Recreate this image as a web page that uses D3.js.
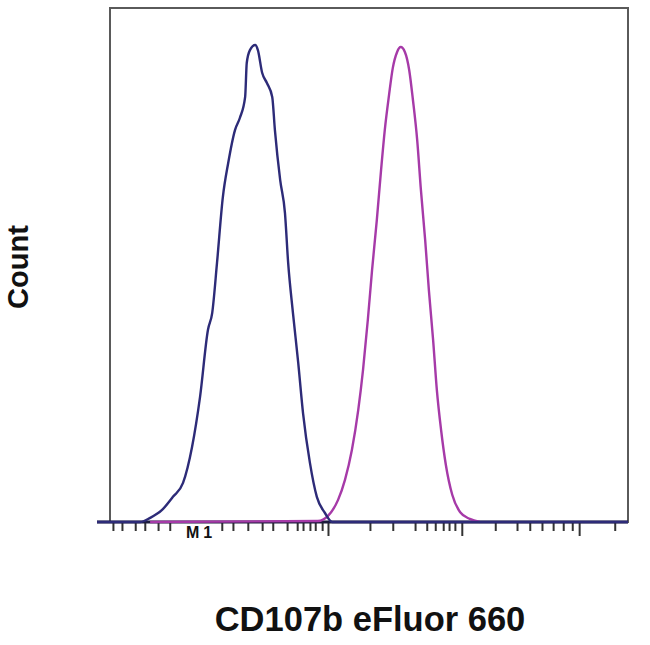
<!DOCTYPE html>
<html>
<head>
<meta charset="utf-8">
<script src="https://cdn.jsdelivr.net/npm/d3@7"></script>
<style>
  body { margin: 0; background: #fff; }
  svg { display: block; font-family: "Liberation Sans", Arial, sans-serif; }
</style>
</head>
<body>
<div class="content"></div>
<script>
const SVG_W = 650;
const SVG_H = 645;

// blue histogram (channel, count)
const blueChannels = [0, 81, 100, 122, 143, 162, 179, 194, 209, 217, 226, 237, 247, 260, 269, 279, 282, 288, 298, 303, 311, 320, 330, 335, 345, 354, 360, 369, 379, 388, 401, 414, 429, 443, 1000];
const blueCounts   = [0, 0, 0.8, 2.3, 4.9, 7.6, 14.6, 24.3, 37.4, 40.7, 50.4, 63.2, 69.8, 76.3, 78.6, 82.7, 89.3, 91.8, 92.8, 91.8, 87.4, 85.4, 82.7, 76.3, 66.5, 60.1, 50.4, 40.7, 30.9, 21.2, 11.5, 4.9, 1.8, 0, 0];

// magenta histogram (channel, count)
const pinkChannels = [100, 416, 435, 454, 467, 480, 492, 501, 510, 518, 527, 535, 542, 550, 557, 565, 572, 580, 588, 595, 603, 610, 618, 625, 633, 640, 648, 657, 669, 684, 702, 721];
const pinkCounts   = [0, 0.2, 1.2, 4.3, 8.2, 14.0, 21.8, 29.6, 39.3, 49.0, 58.8, 68.5, 76.3, 83.1, 88.3, 91.4, 92.4, 91.4, 87.9, 82.1, 74.3, 64.6, 54.9, 45.1, 35.4, 25.7, 17.9, 11.1, 5.3, 1.9, 0.6, 0];

// x axis tick channels
const minorTicks = [30, 47, 72, 90, 115, 137, 235, 256, 284, 311, 331, 358, 377, 388, 401, 411, 424, 514, 557, 599, 621, 637, 652, 663, 674, 750, 791, 815, 838, 859, 878, 895, 975];
const majorTicks = [435, 687, 908];

const xLabel = "CD107b eFluor 660";
const yLabel = "Count";
const markerLabel = "M1";

const svg = d3.select(".content").append("svg").attr("width", SVG_W).attr("height", SVG_H);

const x = d3.scaleLinear().domain([0, 1000]).range([97, 628]);
const y = d3.scaleLinear().domain([0, 100]).range([522, 8]);

// frame
svg.append("rect")
    .attr("x", 110).attr("y", y(100))
    .attr("width", x(1000) - 110).attr("height", y(0) - y(100))
    .attr("fill", "none").attr("stroke", "#5a5a5a").attr("stroke-width", 2);

// x axis: line + ticks
const axis = svg.append("g").attr("transform", "translate(0," + y(0) + ")");
axis.append("g").call(d3.axisBottom(x).tickValues(minorTicks).tickSize(9).tickFormat(""))
    .call(g => g.select(".domain").remove())
    .selectAll("line").attr("stroke", "#333").attr("stroke-width", 2);
axis.append("g").call(d3.axisBottom(x).tickValues(majorTicks).tickSize(14).tickFormat(""))
    .call(g => g.select(".domain").remove())
    .selectAll("line").attr("stroke", "#333").attr("stroke-width", 2);
axis.append("line")
    .attr("x1", x(0)).attr("x2", x(1000))
    .attr("stroke", "#1c1c3c").attr("stroke-width", 3);

// marker label under the axis
svg.append("text")
    .attr("x", 186).attr("y", 538)
    .attr("font-size", 16).attr("font-weight", "bold")
    .attr("letter-spacing", 4)
    .attr("fill", "#111")
    .text(markerLabel);

// histograms
const line = d3.line()
    .x(d => x(d[0]))
    .y(d => y(d[1]))
    .curve(d3.curveMonotoneX);

svg.append("path")
    .datum(d3.zip(pinkChannels, pinkCounts))
    .attr("d", line)
    .attr("fill", "none").attr("stroke", "#a63aa8").attr("stroke-width", 2.4);

svg.append("path")
    .datum(d3.zip(blueChannels, blueCounts))
    .attr("d", line)
    .attr("fill", "none").attr("stroke", "#2d2b78").attr("stroke-width", 2.4);

// axis titles
svg.append("text")
    .attr("x", 370).attr("y", 631)
    .attr("text-anchor", "middle")
    .attr("font-size", 34.5).attr("font-weight", "bold")
    .attr("fill", "#111")
    .text(xLabel);

svg.append("text")
    .attr("transform", "translate(28,267) rotate(-90)")
    .attr("text-anchor", "middle")
    .attr("font-size", 29).attr("font-weight", "bold")
    .attr("fill", "#111")
    .text(yLabel);
</script>
</body>
</html>
